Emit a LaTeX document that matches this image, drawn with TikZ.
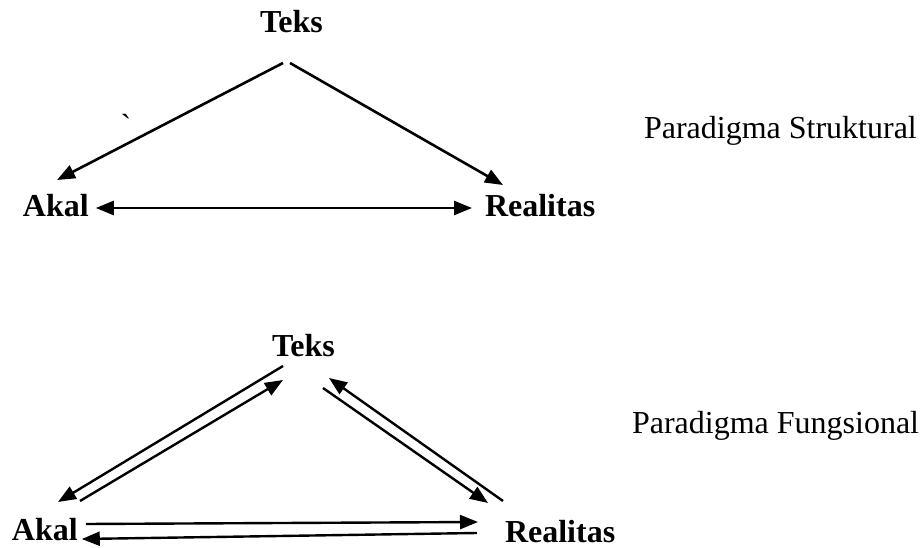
\documentclass[tikz,border=0pt]{standalone}
\usepackage{fontspec}
\setmainfont{Liberation Serif}
\newfontfamily\rawserif{Liberation Serif}
\usetikzlibrary{arrows.meta,calc}
\begin{document}
\begin{tikzpicture}[x=1pt,y=-1pt,
  lbl/.style={font=\fontsize{32}{38}\selectfont\bfseries, inner sep=0pt, outer sep=0pt, anchor=base west},
  para/.style={font=\fontsize{32}{38}\selectfont, inner sep=0pt, outer sep=0pt, anchor=base west},
  arr/.style={line width=2.6pt, -{Triangle[length=18pt,width=14pt]}},
  arrb/.style={line width=2.4pt, -{Triangle[length=18pt,width=14pt]}},
  darr/.style={line width=2.6pt, {Triangle[length=18pt,width=14pt]}-{Triangle[length=18pt,width=14pt]}},
]
\useasboundingbox (0,0) rectangle (922,548);

% Paradigma Struktural
\node[lbl] (teks1) at (260,33) {Teks};
\node[lbl] (akal1) at (23,217) {Akal};
\node[lbl] (real1) at (485,217) {Realitas};
\node[para] (ps) at (644,139) {Paradigma Struktural};
\node[inner sep=0pt, font=\rawserif\fontsize{32}{38}\selectfont] (tick) at (126,125) {`};

\draw[arr] ($(teks1.base west)+(23,30)$) -- ($(akal1.base west)+(34,-37)$);
\draw[arr] ($(teks1.base west)+(30,30)$) -- ($(real1.base west)+(18,-32)$);
\draw[darr] ($(akal1.base east)+(7,-9)$) -- ($(real1.base west)+(-13,-9)$);

% Paradigma Fungsional
\node[lbl] (teks2) at (272,357) {Teks};
\node[lbl] (akal2) at (12,540) {Akal};
\node[lbl] (real2) at (505,542) {Realitas};
\node[para] (pf) at (632,433) {Paradigma Fungsional};

\draw[arrb] ($(teks2.base west)+(11,9)$) -- ($(akal2.base west)+(46,-38)$);
\draw[arrb] ($(akal2.base west)+(68,-39)$) -- ($(teks2.base west)+(11,23)$);
\draw[arrb] ($(real2.base west)+(-2,-41)$) -- ($(teks2.base west)+(57,21)$);
\draw[arrb] ($(teks2.base west)+(51,31)$) -- ($(real2.base west)+(-17,-39)$);
\draw[arrb] ($(akal2.base east)+(8,-16)$) -- ($(real2.base west)+(-27,-20)$);
\draw[arrb] ($(real2.base west)+(-28,-9)$) -- ($(akal2.base east)+(4,-1)$);
\end{tikzpicture}
\end{document}
